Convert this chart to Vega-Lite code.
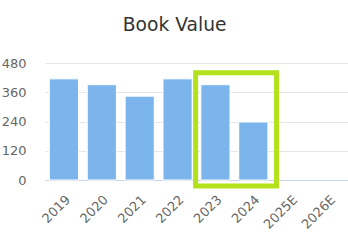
{
  "$schema": "https://vega.github.io/schema/vega-lite/v6.json",
  "autosize": {"type": "none"},
  "width": 303,
  "height": 117,
  "padding": {"left": 45, "top": 63, "right": 0, "bottom": 62},
  "background": "white",
  "config": {
    "font": "DejaVu Sans",
    "view": {"stroke": null}
  },
  "title": {
    "text": "Book Value",
    "anchor": "middle",
    "frame": "bounds",
    "fontSize": 18.7,
    "fontWeight": "normal",
    "color": "#333333",
    "font": "DejaVu Sans",
    "offset": 22
  },
  "datasets": {
    "bv": [
      {"year": "2019", "value": 415},
      {"year": "2020", "value": 391},
      {"year": "2021", "value": 344},
      {"year": "2022", "value": 415},
      {"year": "2023", "value": 391},
      {"year": "2024", "value": 238},
      {"year": "2025E", "value": null},
      {"year": "2026E", "value": null}
    ],
    "hl": [
      {"start": "2023", "end": "2024", "top": 440, "bottom": -25}
    ]
  },
  "layer": [
    {
      "data": {"name": "bv"},
      "mark": {"type": "bar", "color": "#7cb5ec", "stroke": "#ffffff", "strokeWidth": 1},
      "encoding": {
        "x": {
          "field": "year",
          "type": "ordinal",
          "sort": null,
          "scale": {
            "domain": ["2019", "2020", "2021", "2022", "2023", "2024", "2025E", "2026E"],
            "paddingInner": 0.23,
            "paddingOuter": 0.115
          },
          "axis": {
            "title": null,
            "labelAngle": -45,
            "labelAlign": "right",
            "labelBaseline": "top",
            "labelFontSize": 13,
            "labelColor": "#666666",
            "labelPadding": 13,
            "labelOverlap": false,
            "ticks": false,
            "domainColor": "#ccd6eb",
            "domainWidth": 1
          }
        },
        "y": {
          "field": "value",
          "type": "quantitative",
          "scale": {"domain": [0, 480], "nice": false},
          "axis": {
            "title": null,
            "values": [0, 120, 240, 360, 480],
            "tickCount": 10,
            "labelFontSize": 13,
            "labelColor": "#666666",
            "labelPadding": 19,
            "labelOverlap": false,
            "ticks": false,
            "domain": false,
            "gridColor": "#e6e6e6",
            "gridWidth": 1
          }
        }
      }
    },
    {
      "data": {"name": "hl"},
      "mark": {"type": "rect", "fill": null, "fillOpacity": 0, "stroke": "#b3e11b", "strokeWidth": 5},
      "encoding": {
        "x": {"field": "start", "type": "ordinal", "bandPosition": -0.18},
        "x2": {"field": "end", "bandPosition": 1.295},
        "y": {"field": "top", "type": "quantitative"},
        "y2": {"field": "bottom"}
      }
    }
  ]
}
